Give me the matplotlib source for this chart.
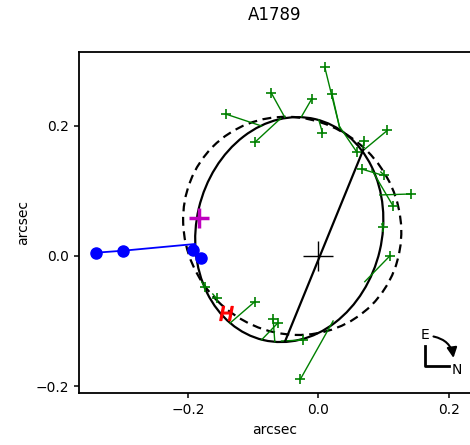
import matplotlib
matplotlib.use("Agg")
import matplotlib.pyplot as plt
from matplotlib.patches import Ellipse

# orbit fits: centre, full width along angle, full height, angle (deg)
orbit_solid = dict(xy=(-0.0445, 0.0405), width=0.348, height=0.285, angle=76.8)
orbit_dashed = dict(xy=(-0.040, 0.0462), width=0.344, height=0.325, angle=-45)

# line of nodes end points
nodes_x = [-0.051, 0.069]
nodes_y = [-0.131, 0.163]

# measured positions (green +) and model positions on the orbit
meas_x = [0.0100, 0.0212, -0.0104, -0.0718, -0.1423, -0.0963, 0.0064, 0.0702,
          0.0590, 0.1058, 0.0663, 0.1009, 0.1147, 0.1419, 0.0994, 0.1097,
          -0.0273, -0.0233, -0.0693, -0.0617, -0.0974, -0.1561, -0.1741]
meas_y = [0.2894, 0.2480, 0.2403, 0.2495, 0.2178, 0.1753, 0.1891, 0.1764,
          0.1595, 0.1925, 0.1334, 0.1242, 0.0767, 0.0951, 0.0440, 0.0000,
          -0.1887, -0.1288, -0.0971, -0.1023, -0.0701, -0.0649, -0.0471]
model_x = [0.0330, 0.0330, -0.0258, -0.0514, -0.0871, -0.0575, 0.0008, 0.0683,
           0.0330, 0.0698, 0.0974, 0.0959, 0.0821, 0.0943, 0.0974, 0.0713,
           0.0227, -0.0564, -0.0667, -0.0871, -0.1357, -0.1618, -0.1787]
model_y = [0.1959, 0.1959, 0.2137, 0.2127, 0.1994, 0.2112, 0.2086, 0.1656,
           0.1979, 0.1626, 0.1242, 0.1288, 0.1319, 0.0936, 0.0491, -0.0394,
           -0.0997, -0.1304, -0.1314, -0.1288, -0.1032, -0.0583, -0.0399]

# blue track
blue_x = [-0.3402, -0.2994, -0.1920, -0.1802]
blue_y = [0.0051, 0.0081, 0.0092, -0.0026]
blue_line_x = [-0.3402, -0.2994, -0.1890]
blue_line_y = [0.0051, 0.0081, 0.0184]

magenta_pt = (-0.1833, 0.0578)
h_pt = (-0.1408, -0.0879)

fig = plt.figure(figsize=(4.7, 4.45), dpi=100)
ax = fig.add_axes([79/470, (445-393.3)/445, 392/470, 341/445])

for mx, my, px, py in zip(meas_x, meas_y, model_x, model_y):
    ax.plot([mx, px], [my, py], color='g', lw=1)
ax.plot(meas_x, meas_y, '+', color='g', ms=7, mew=1.2)

ax.add_patch(Ellipse(**orbit_solid, fill=False, ec='k', lw=1.6))
ax.add_patch(Ellipse(**orbit_dashed, fill=False, ec='k', lw=1.6, ls=(0, (4, 2.5))))
ax.plot(nodes_x, nodes_y, color='k', lw=1.6)

ax.plot(0, 0, '+', color='k', ms=22, mew=1)
ax.plot(blue_line_x, blue_line_y, color='b', lw=1.3)
ax.plot(blue_x, blue_y, 'o', color='b', ms=8)
ax.plot(*magenta_pt, '+', color='m', ms=14, mew=2.5)
ax.plot(*h_pt, marker='$H$', color='r', ms=10, ls='none')

# compass
cx, cy = 0.163, -0.1687
ax.plot([cx, cx, cx + 0.038], [cy + 0.031, cy, cy], color='k', lw=2)
ax.text(cx, cy + 0.048, 'E', ha='center', va='center', fontsize=10)
ax.text(cx + 0.049, cy - 0.006, 'N', ha='center', va='center', fontsize=10)
ax.annotate('', xy=(cx + 0.0448, cy + 0.0081), xytext=(cx + 0.0095, cy + 0.046),
            arrowprops=dict(arrowstyle='-|>', color='k', lw=1.5,
                            connectionstyle='arc3,rad=-0.4', mutation_scale=15))

ax.set_xlim(-0.367, -0.367 + 392/652)
ax.set_ylim(-0.2106, 0.3124)
ax.set_xticks([-0.2, 0.0, 0.2])
ax.set_yticks([-0.2, 0.0, 0.2])
ax.set_xlabel('arcsec')
ax.set_ylabel('arcsec')
ax.spines['right'].set_visible(False)
for s in ['left', 'top', 'bottom']:
    ax.spines[s].set_linewidth(1.3)
ax.tick_params(width=1.1)

fig.text(275/470, 1 - 15/445, 'A1789', ha='center', va='center', fontsize=12)

fig.savefig('out.png', dpi=100)
